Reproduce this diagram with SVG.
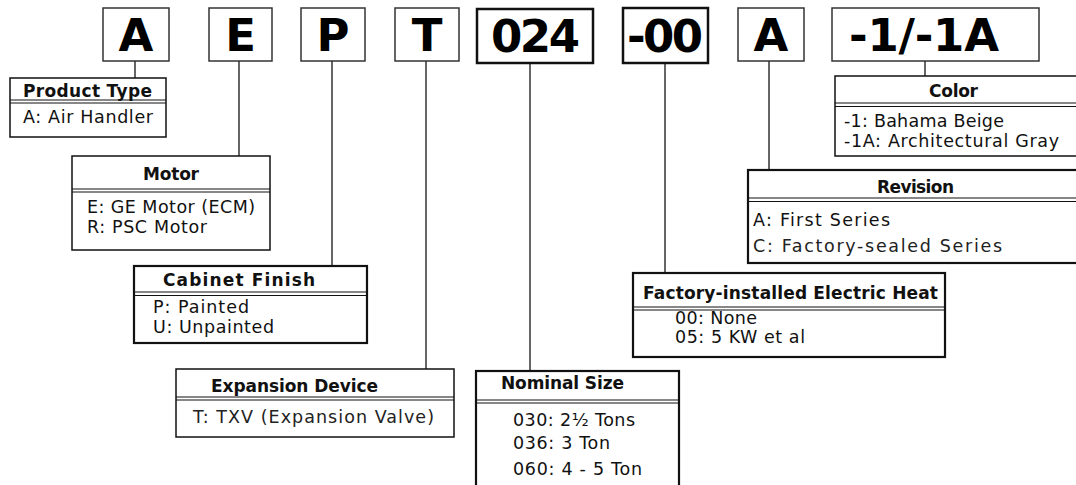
<svg xmlns="http://www.w3.org/2000/svg" width="1076" height="485" viewBox="0 0 1076 485">
<style>
.bg{fill:#ffffff}
.code{fill:#fff;stroke:#333;stroke-width:1.5}
.codeb{fill:#fff;stroke:#111;stroke-width:2.5}
.big{font-family:"DejaVu Sans",sans-serif;font-weight:bold;font-size:45px;fill:#000;text-anchor:middle}
.box{fill:#fff;stroke:#111;stroke-width:1.5}
.boxb{fill:#fff;stroke:#111;stroke-width:2.2}
.div{stroke:#111;stroke-width:1.2}
.t{font-family:"DejaVu Sans",sans-serif;font-weight:bold;font-size:17px;fill:#111}
.i{font-family:"DejaVu Sans",sans-serif;font-size:17.5px;fill:#111}
.g{font-family:"DejaVu Sans",sans-serif;font-size:17.5px;fill:#222}
.con{stroke:#333;stroke-width:1.5;fill:none}
</style>
<rect class="bg" x="0" y="0" width="1076" height="485"/>

<g id="connectors">
<line class="con" x1="135" y1="61" x2="135" y2="78"/>
<line class="con" x1="239" y1="61" x2="239" y2="156"/>
<line class="con" x1="332" y1="61" x2="332" y2="266"/>
<line class="con" x1="426" y1="61" x2="426" y2="369"/>
<line class="con" x1="530" y1="63" x2="530" y2="371"/>
<line class="con" x1="665" y1="63" x2="665" y2="273"/>
<line class="con" x1="769" y1="61" x2="769" y2="170"/>
<line class="con" x1="925" y1="61" x2="925" y2="76"/>
</g>

<g id="code-A">
<rect class="code" x="103" y="8" width="66" height="53"/>
<text class="big" x="136" y="51">A</text>
</g>
<g id="code-E">
<rect class="code" x="209" y="8" width="63" height="53"/>
<text class="big" x="240.5" y="51">E</text>
</g>
<g id="code-P">
<rect class="code" x="301" y="8" width="64" height="53"/>
<text class="big" x="333" y="51">P</text>
</g>
<g id="code-T">
<rect class="code" x="395" y="8" width="64" height="53"/>
<text class="big" x="427" y="51">T</text>
</g>
<g id="code-024">
<rect class="codeb" x="477" y="9" width="116" height="54"/>
<text class="big" x="535.5" y="52" textLength="89">024</text>
</g>
<g id="code-00">
<rect class="codeb" x="623" y="8" width="85" height="55"/>
<text class="big" x="665" y="52" textLength="76">-00</text>
</g>
<g id="code-A2">
<rect class="code" x="738" y="8" width="66" height="53"/>
<text class="big" x="771" y="51">A</text>
</g>
<g id="code-color">
<rect class="code" x="832" y="8" width="207" height="53"/>
<text class="big" x="849" y="51" style="text-anchor:start" textLength="150">-1/-1A</text>
</g>

<g id="product-type">
<rect class="box" x="10" y="78" width="156" height="59"/>
<line class="div" x1="10" y1="100" x2="166" y2="100"/>
<line class="div" x1="10" y1="103" x2="166" y2="103"/>
<text class="t" x="23" y="97" textLength="129">Product Type</text>
<text class="i" x="23" y="123" textLength="130">A: Air Handler</text>
</g>

<g id="motor">
<rect class="box" x="72" y="156" width="198" height="94"/>
<line class="div" x1="72" y1="189" x2="270" y2="189"/>
<line class="div" x1="72" y1="192" x2="270" y2="192"/>
<text class="t" x="143" y="180" textLength="56">Motor</text>
<text class="i" x="87" y="213" textLength="168">E: GE Motor (ECM)</text>
<text class="i" x="87" y="233" textLength="120">R: PSC Motor</text>
</g>

<g id="cabinet-finish">
<rect class="boxb" x="134" y="266" width="233" height="77"/>
<line class="div" x1="134" y1="292" x2="367" y2="292"/>
<line class="div" x1="134" y1="295.5" x2="367" y2="295.5"/>
<text class="t" x="163" y="286" textLength="152">Cabinet Finish</text>
<text class="i" x="153" y="313" textLength="96">P: Painted</text>
<text class="i" x="153" y="333" textLength="121">U: Unpainted</text>
</g>

<g id="expansion-device">
<rect class="box" x="176" y="369" width="278" height="68"/>
<line class="div" x1="176" y1="397" x2="454" y2="397"/>
<line class="div" x1="176" y1="400" x2="454" y2="400"/>
<text class="t" x="211" y="392" textLength="167">Expansion Device</text>
<text class="g" x="193" y="423" textLength="241">T: TXV (Expansion Valve)</text>
</g>

<g id="nominal-size">
<rect class="boxb" x="476" y="371" width="203" height="120"/>
<line class="div" x1="476" y1="400" x2="679" y2="400"/>
<line class="div" x1="476" y1="403" x2="679" y2="403"/>
<text class="t" x="501" y="389" textLength="123">Nominal Size</text>
<text class="i" x="513" y="426" textLength="122">030: 2½ Tons</text>
<text class="i" x="513" y="449" textLength="97">036: 3 Ton</text>
<text class="i" x="513" y="475" textLength="129">060: 4 - 5 Ton</text>
</g>

<g id="electric-heat">
<rect class="boxb" x="633" y="273" width="312" height="84"/>
<line class="div" x1="633" y1="307" x2="945" y2="307"/>
<line class="div" x1="633" y1="310" x2="945" y2="310"/>
<text class="t" x="643" y="299" textLength="295">Factory-installed Electric Heat</text>
<text class="i" x="675" y="324" textLength="82">00: None</text>
<text class="i" x="675" y="343" textLength="130">05: 5 KW et al</text>
</g>

<g id="revision">
<rect class="boxb" x="748" y="170" width="340" height="93"/>
<line class="div" x1="748" y1="198" x2="1076" y2="198"/>
<line class="div" x1="748" y1="201.5" x2="1076" y2="201.5"/>
<text class="t" x="877" y="193" textLength="77">Revision</text>
<text class="i" x="753" y="226" textLength="137">A: First Series</text>
<text class="g" x="753" y="252" textLength="249">C: Factory-sealed Series</text>
</g>

<g id="color">
<rect class="box" x="835" y="76" width="250" height="80"/>
<line class="div" x1="835" y1="103" x2="1076" y2="103"/>
<line class="div" x1="835" y1="106.5" x2="1076" y2="106.5"/>
<text class="t" x="929" y="97" textLength="49">Color</text>
<text class="i" x="844" y="127" textLength="160">-1: Bahama Beige</text>
<text class="i" x="844" y="147" textLength="215">-1A: Architectural Gray</text>
</g>
</svg>
